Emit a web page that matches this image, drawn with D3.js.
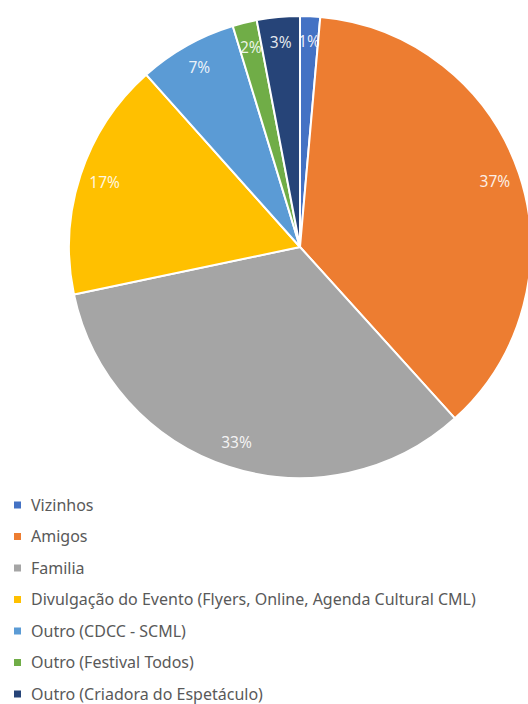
<!DOCTYPE html>
<html><head><meta charset="utf-8">
<script src="https://cdn.jsdelivr.net/npm/d3@7"></script>
<style>html,body{margin:0;padding:0;background:#fff;overflow:hidden}</style>
</head><body>
<svg id="c" width="528" height="704"></svg>
<script>
const categories = ["Vizinhos","Amigos","Familia","Divulgação do Evento (Flyers, Online, Agenda Cultural CML)","Outro (CDCC - SCML)","Outro (Festival Todos)","Outro (Criadora do Espetáculo)"];
const values = [1.4, 36.9, 33.4, 16.7, 6.9, 1.7, 3.0];
const colors = ["#4472C4","#ED7D31","#A5A5A5","#FFC000","#5B9BD5","#70AD47","#264478"];

const svg = d3.select("#c");
const cx = 300, cy = 247, R = 231;
const total = d3.sum(values);
const data = categories.map((c,i)=>({cat:c, v:values[i], color:colors[i]}));
const pie = d3.pie().value(d=>d.v).sort(null);
const arcs = pie(data);
const arc = d3.arc().innerRadius(0).outerRadius(R);
const labelArc = d3.arc().innerRadius(R*0.89).outerRadius(R*0.89);
const g = svg.append("g").attr("transform",`translate(${cx},${cy})`);
g.selectAll("path").data(arcs).join("path")
  .attr("d",arc).attr("fill",d=>d.data.color)
  .attr("stroke","#fff").attr("stroke-width",2).attr("stroke-linejoin","round");
g.selectAll("text").data(arcs).join("text")
  .attr("transform",d=>`translate(${labelArc.centroid(d)})`)
  .attr("text-anchor","middle").attr("dy","0.35em")
  .attr("font-family","Noto Sans, sans-serif").attr("font-size",15.5)
  .attr("fill","#fff").attr("fill-opacity",0.88)
  .text(d=>Math.round(d.data.v/total*100)+"%");

const ly = d3.scalePoint().domain(categories).range([505,694]);
const leg = svg.append("g");
const rows = leg.selectAll("g").data(data).join("g")
  .attr("transform",d=>`translate(0,${ly(d.cat)})`);
rows.append("rect").attr("x",14).attr("y",-3.5).attr("width",7).attr("height",7).attr("fill",d=>d.color);
rows.append("text").attr("x",31).attr("dy","0.35em")
  .attr("font-family","Noto Sans, sans-serif").attr("font-size",16)
  .attr("fill","#595959").text(d=>d.cat);
</script>
</body></html>
